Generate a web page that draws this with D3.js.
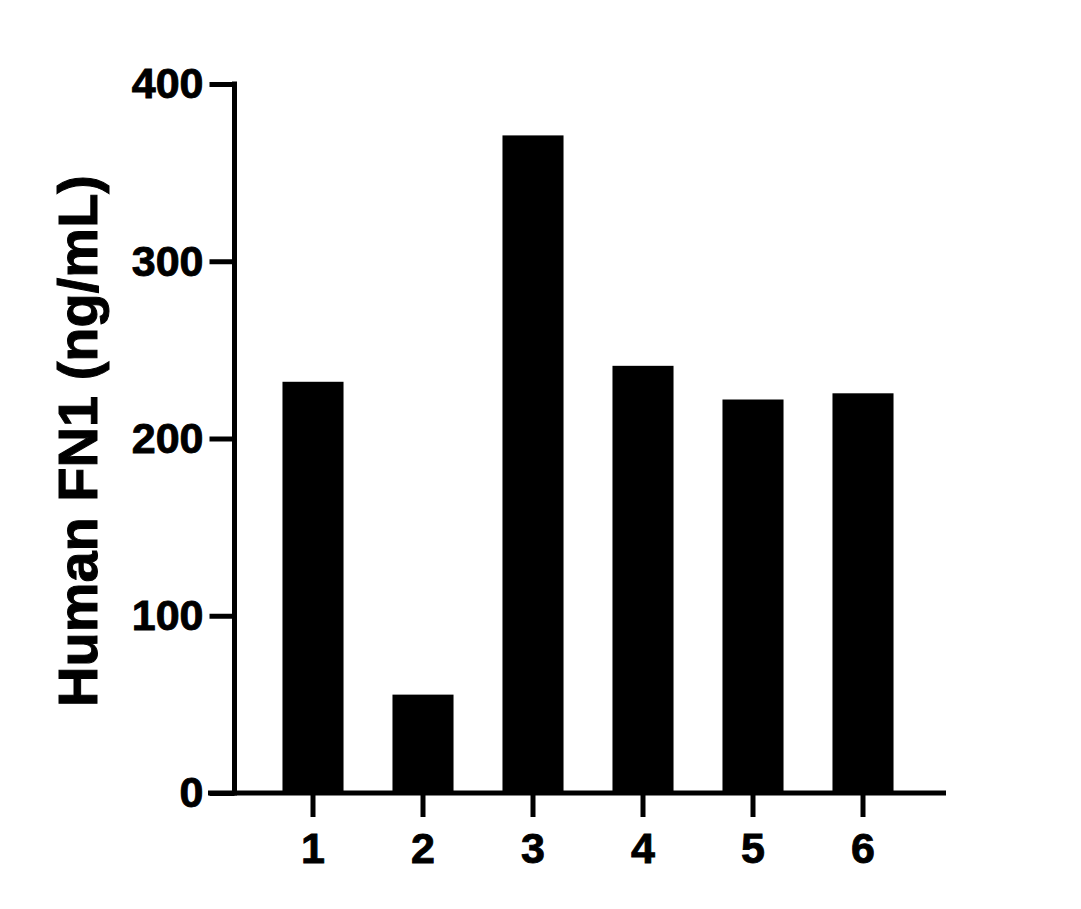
<!DOCTYPE html>
<html>
<head>
<meta charset="utf-8">
<script src="https://cdn.jsdelivr.net/npm/d3@7"></script>
<style>
  body { margin: 0; background: #fff; }
  text { font-family: "Liberation Sans", Arial, Helvetica, sans-serif; font-weight: bold; }
</style>
</head>
<body>
<svg id="chart" width="1081" height="909"></svg>
<script>
// sample ids and measured concentration
var samples = ["1", "2", "3", "4", "5", "6"];
var values = [232, 55.5, 371, 241, 222, 225.5];
var yTicks = [0, 100, 200, 300, 400];
var yLabel = "Human FN1 (ng/mL)";

var svg = d3.select("#chart");
var axisX = 234.5;   // y axis position
var rightEnd = 946;
var lw = 5;          // line weight of axes and ticks

var y = d3.scaleLinear().domain([0, 400]).range([793, 84]);
var x = d3.scaleBand().domain(samples).range([258, 918])
  .paddingInner(0.445).paddingOuter(0.2225);

// bars
svg.append("g").selectAll("rect").data(values).enter().append("rect")
  .attr("x", function(d, i){ return x(samples[i]); })
  .attr("y", function(d){ return y(d); })
  .attr("width", x.bandwidth())
  .attr("height", function(d){ return y(0) - y(d); })
  .attr("fill", "#000");

function styleLabels(sel){
  sel.attr("font-size", 43).attr("fill", "#000")
    .attr("stroke", "#000").attr("stroke-width", 0.9)
    .style("font-family", "'Liberation Sans', Arial, sans-serif").style("font-weight", "bold");
}

// y axis
var gy = svg.append("g").attr("transform", "translate(" + axisX + ",0)")
  .call(d3.axisLeft(y).tickValues(yTicks).tickSize(25).tickPadding(6).tickSizeOuter(0));
gy.select(".domain").remove();
gy.selectAll(".tick line").attr("stroke", "#000").attr("stroke-width", lw);
styleLabels(gy.selectAll(".tick text"));
gy.append("line").attr("x1", 0).attr("x2", 0)
  .attr("y1", y(400) - lw / 2).attr("y2", y(0) + lw / 2)
  .attr("stroke", "#000").attr("stroke-width", lw);

// x axis
var gx = svg.append("g").attr("transform", "translate(0," + y(0) + ")")
  .call(d3.axisBottom(x).tickSize(24).tickPadding(15).tickSizeOuter(0));
gx.select(".domain").remove();
gx.selectAll(".tick line").attr("stroke", "#000").attr("stroke-width", lw);
styleLabels(gx.selectAll(".tick text"));
gx.append("line").attr("x1", axisX - 26.5).attr("x2", rightEnd)
  .attr("y1", 0).attr("y2", 0)
  .attr("stroke", "#000").attr("stroke-width", lw);

// y axis title
svg.append("text")
  .attr("transform", "translate(97,441) rotate(-90)")
  .attr("text-anchor", "middle")
  .attr("font-size", 56)
  .attr("fill", "#000")
  .attr("stroke", "#000").attr("stroke-width", 1)
  .text(yLabel);
</script>
</body>
</html>
